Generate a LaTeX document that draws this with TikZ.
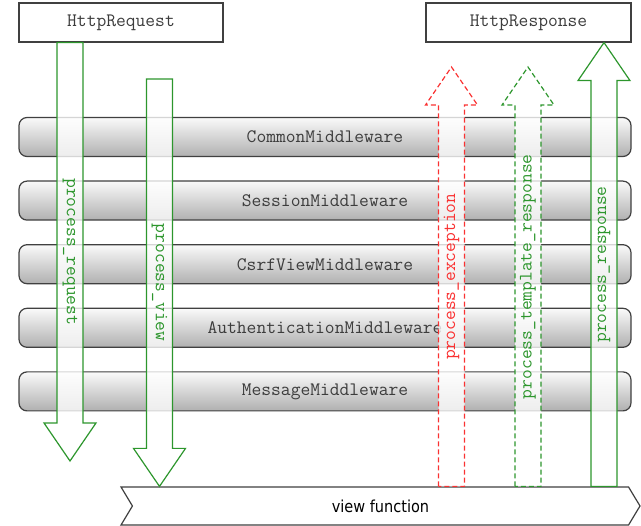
\documentclass[tikz,border=0pt]{standalone}
\usepackage{fontspec}
\newfontfamily\vffont[FakeStretch=0.88]{DejaVu Sans}
\usetikzlibrary{calc,shapes.symbols}

\definecolor{okgreen}{RGB}{45,150,45}
\definecolor{exred}{RGB}{250,50,50}
\definecolor{mwtext}{RGB}{60,60,60}

% hollow block arrow: style, from, to, label style, label
\newcommand{\blockarrow}[5]{%
	\draw[#1] let \p1=#2, \p2=#3, \n1={sign(\y2-\y1)*38} in
		(\x1-13pt,\y1) -- (\x1-13pt,\y2-\n1) -- (\x1-26pt,\y2-\n1) -- (\x2,\y2)
		-- (\x1+26pt,\y2-\n1) -- (\x1+13pt,\y2-\n1) -- (\x1+13pt,\y1) -- cycle;
	\path #2 -- #3 node[midway, #4] {#5};
}

\begin{document}
\begin{tikzpicture}[x=1pt,y=-1pt]
			\tikzset{hbox/.style={draw=black!75, line width=1.2pt, fill=white,
						minimum width=204pt, minimum height=39pt, inner sep=0pt,
						font=\fontsize{19}{19}\ttfamily, text=mwtext}}
			\tikzset{mwbar/.style={draw=black!75, line width=1.2pt, rounded corners=8pt,
						top color=gray!4, bottom color=gray!62,
						minimum width=612pt, minimum height=39pt, inner sep=0pt,
						font=\fontsize{19}{19}\ttfamily, text=mwtext}}
			\tikzset{okarrow/.style={draw=okgreen, line width=1.2pt, fill=white, fill opacity=0.78}}
			\tikzset{tmplarrow/.style={okarrow, dash pattern=on 5pt off 3pt}}
			\tikzset{exarrow/.style={okarrow, draw=exred, dash pattern=on 5pt off 3pt}}
			\tikzset{oklabel/.style={font=\fontsize{19}{19}\ttfamily, text=okgreen, inner sep=0pt}}
			\tikzset{exlabel/.style={oklabel, text=exred}}

				\useasboundingbox (0,0) rectangle (641,526);

				% middleware layers
				\foreach \name/\txt [count=\i from 0] in
					{common/CommonMiddleware, session/SessionMiddleware,
					 csrf/CsrfViewMiddleware, auth/AuthenticationMiddleware,
					 message/MessageMiddleware}
					\node[mwbar] (\name) at (325,{137+63.6*\i}) {\txt};

				\node[hbox] (req) at (121,22.5) {HttpRequest};
				\node[hbox, minimum width=205pt] (resp) at (528.5,22.5) {HttpResponse};
				\node[signal, signal from=west, signal to=east, signal pointer angle=118,
					draw=black!75, line width=1.2pt, fill=white, inner sep=0pt,
					minimum width=519pt, minimum height=38pt,
					font=\vffont\fontsize{16.5}{16.5}\selectfont] (vf) at (380.5,506) {view function};

				\coordinate (reqtip) at (70,461);
				\coordinate (viewtop) at (159.5,79);
				\coordinate (extip) at (451.5,67);
				\coordinate (tmpltip) at (528,67);
				\coordinate (respx) at (604,0);

				\blockarrow{okarrow}{(req.south -| reqtip)}{(reqtip)}{oklabel, rotate=-90}{process\_request}
				\blockarrow{okarrow}{(viewtop)}{(vf.north -| viewtop)}{oklabel, rotate=-90}{process\_view}
				\blockarrow{exarrow}{(vf.north -| extip)}{(extip)}{exlabel, rotate=90}{process\_exception}
				\blockarrow{tmplarrow}{(vf.north -| tmpltip)}{(tmpltip)}{oklabel, rotate=90}{process\_template\_response}
				\blockarrow{okarrow}{(vf.north -| respx)}{(resp.south -| respx)}{oklabel, rotate=90}{process\_response}
		\end{tikzpicture}
\end{document}
